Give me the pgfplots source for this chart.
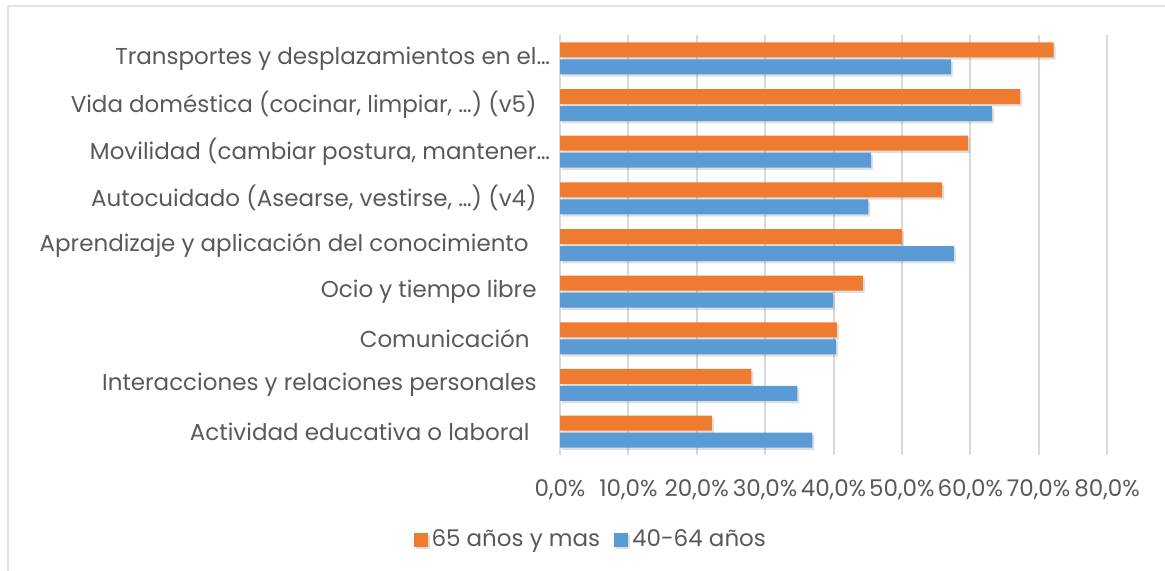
\documentclass[border=0pt]{standalone}
\usepackage{fontspec}
\setmainfont{Poppins}
\usepackage{pgfplots}
\pgfplotsset{compat=1.18}
\usetikzlibrary{shadows}

\definecolor{txtgray}{HTML}{595959}
\definecolor{gridgray}{HTML}{D9D9D9}
\definecolor{orng}{HTML}{EE7B30}
\definecolor{blu}{HTML}{5B9BD5}

\begin{document}
\begin{tikzpicture}
\path[use as bounding box] (0,0) rectangle (582.5pt,285.5pt);
\draw[gray!22, line width=1pt] (4pt,0) -- (4pt,282.5pt) -- (582.5pt,282.5pt);

\begin{axis}[
    at={(280pt,58pt)}, anchor=south west,
    scale only axis,
    width=273.5pt, height=210pt,
    xbar, bar width=7.5pt,
    xmin=0, xmax=80,
    ymin=-0.5, ymax=8.5,
    xtick={0,10,...,80},
    ytick={0,...,8},
    yticklabels={
        Actividad educativa o laboral\hspace*{3.5pt},
        Interacciones y relaciones personales,
        Comunicación\hspace*{3.5pt},
        Ocio y tiempo libre,
        Aprendizaje y aplicación del conocimiento\hspace*{4pt},
        {Autocuidado (Asearse, vestirse, …) (v4)},
        {Movilidad (cambiar postura, mantener\rlap{…}},
        {Vida doméstica (cocinar, limpiar, …) (v5)},
        Transportes y desplazamientos en el\rlap{…}
    },
    xticklabel={\pgfmathprintnumber[fixed,fixed zerofill,precision=1,use comma]{\tick}\%},
    /pgf/number format/assume math mode=true,
    axis line style={draw=none},
    major tick length=0pt,
    xmajorgrids, grid style={gridgray, line width=1pt},
    tick label style={font=\fontsize{11.5}{13}\selectfont, color=txtgray},
    yticklabel style={anchor=east, inner sep=0pt, xshift=-11.5pt},
    xticklabel style={anchor=center, inner sep=0pt, yshift=-17.5pt},
    legend style={draw=none, legend columns=2, at={(0.058,-0.202)}, anchor=center,
        font=\fontsize{11.5}{13}\selectfont, text=txtgray,
        /tikz/every even column/.append style={column sep=5pt}},
    legend image code/.code={\fill[#1] (0pt,-3.5pt) rectangle (7pt,3.5pt);},
]
\addplot[draw=none, fill=orng, bar shift=4.25pt,
    drop shadow={opacity=0.25, shadow xshift=1pt, shadow yshift=-1.2pt}]
    coordinates {(22.2,0) (28.0,1) (40.5,2) (44.3,3) (50.0,4) (55.9,5) (59.7,6) (67.3,7) (72.2,8)};
\addlegendentry{65 años y mas}
\addplot[draw=none, fill=blu, bar shift=-4.25pt,
    drop shadow={opacity=0.25, shadow xshift=1pt, shadow yshift=-1.2pt}]
    coordinates {(36.9,0) (34.7,1) (40.4,2) (39.9,3) (57.6,4) (45.1,5) (45.5,6) (63.2,7) (57.2,8)};
\addlegendentry{40-64 años}
\end{axis}
\end{tikzpicture}
\end{document}
